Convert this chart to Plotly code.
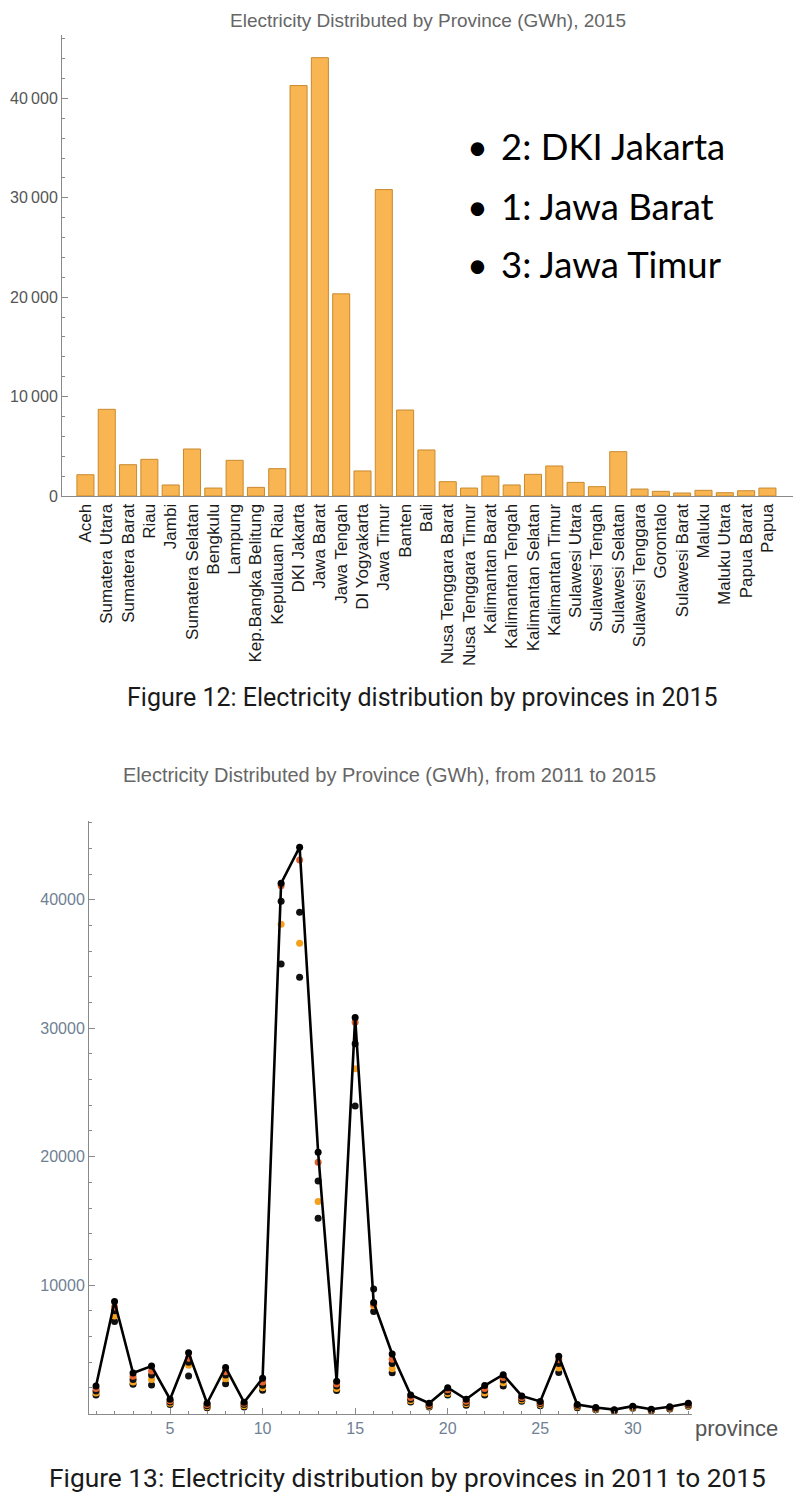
import plotly.graph_objects as go

# page body has an 8px margin; lay out in page pixels and convert
OFF = 8
W, H = 812 - 2 * OFF, 1507 - 2 * OFF

provinces = ["Aceh", "Sumatera Utara", "Sumatera Barat", "Riau", "Jambi", "Sumatera Selatan",
             "Bengkulu", "Lampung", "Kep.Bangka Belitung", "Kepulauan Riau", "DKI Jakarta",
             "Jawa Barat", "Jawa Tengah", "DI Yogyakarta", "Jawa Timur", "Banten", "Bali",
             "Nusa Tenggara Barat", "Nusa Tenggara Timur", "Kalimantan Barat", "Kalimantan Tengah",
             "Kalimantan Selatan", "Kalimantan Timur", "Sulawesi Utara", "Sulawesi Tengah",
             "Sulawesi Selatan", "Sulawesi Tenggara", "Gorontalo", "Sulawesi Barat", "Maluku",
             "Maluku Utara", "Papua Barat", "Papua"]
province_index = list(range(1, 34))

gwh_2011 = [1450, 7160, 2270, 2210, 700, 2920, 450, 2320, 500, 1820, 35010, 33970, 15200, 1800,
            23950, 7950, 3180, 900, 500, 1450, 650, 1450, 2150, 950, 600, 3200, 450, 300, 180,
            400, 220, 360, 560]
gwh_2012 = [1600, 7600, 2450, 2650, 800, 3750, 520, 2700, 600, 2000, 38100, 36620, 16500, 1950,
            26840, 8400, 3490, 1000, 560, 1550, 750, 1600, 2400, 1050, 700, 3550, 520, 340, 210,
            440, 250, 400, 620]
gwh_2013 = [1750, 8000, 2650, 3000, 900, 4000, 600, 3000, 700, 2200, 39890, 39040, 18110, 2150,
            28800, 9700, 3900, 1100, 630, 1700, 850, 1800, 2600, 1150, 780, 3900, 580, 380, 240,
            480, 280, 440, 680]
gwh_2014 = [1950, 8300, 2900, 3300, 1000, 4300, 700, 3250, 800, 2450, 41100, 43110, 19570, 2300,
            30470, 8500, 4220, 1250, 700, 1850, 950, 1950, 2800, 1250, 850, 4200, 640, 420, 270,
            520, 300, 490, 740]
gwh_2015 = [2140, 8720, 3150, 3690, 1110, 4730, 800, 3590, 870, 2750, 41290, 44100, 20340, 2520,
            30830, 8650, 4630, 1440, 800, 2010, 1110, 2180, 3020, 1370, 940, 4460, 700, 470, 300,
            570, 330, 530, 800]

top_yticks = [0, 10000, 20000, 30000, 40000]
top_yticktext = ["0", "10\u2009000", "20\u2009000", "30\u2009000", "40\u2009000"]
bot_yticks = [10000, 20000, 30000, 40000]
bot_yticktext = ["10000", "20000", "30000", "40000"]
bot_xticks = [5, 10, 15, 20, 25, 30]
bullets = ["2: DKI Jakarta", "1: Jawa Barat", "3: Jawa Timur"]


def px_x(p):
    return (p - OFF) / W


def px_y(p):
    return (H - (p - OFF)) / H


fig = go.Figure()

# ---- top bar chart ----
fig.add_trace(go.Bar(
    x=provinces, y=gwh_2015, xaxis="x", yaxis="y",
    marker=dict(color="#F8B552", line=dict(color="#C98A2E", width=1)),
    showlegend=False,
))

# ---- bottom chart ----
year_styles = [
    (gwh_2011, "#111111"),
    (gwh_2012, "#F5A11E"),
    (gwh_2013, "#111111"),
    (gwh_2014, "#E2622B"),
]
for vals, col in year_styles:
    fig.add_trace(go.Scatter(
        x=province_index, y=vals, xaxis="x2", yaxis="y2", mode="markers",
        marker=dict(color=col, size=7), showlegend=False, cliponaxis=False,
    ))
fig.add_trace(go.Scatter(
    x=province_index, y=gwh_2015, xaxis="x2", yaxis="y2", mode="lines+markers",
    line=dict(color="#000000", width=2.6), marker=dict(color="#000000", size=7),
    showlegend=False, cliponaxis=False,
))

axis_col = "#8a8a8a"
SANS = "Liberation Sans, Arial, sans-serif"
tick_font_top = dict(family=SANS, size=16, color="#555555")
tick_font_bot = dict(family=SANS, size=16, color="#6f7f94")

fig.update_layout(
    width=W, height=H,
    margin=dict(l=0, r=0, t=0, b=0, autoexpand=False),
    paper_bgcolor="white", plot_bgcolor="rgba(0,0,0,0)",
    bargap=0.2,
    xaxis=dict(
        domain=[px_x(62), px_x(793)], anchor="y", type="category",
        range=[-1.1, 33.2], showgrid=False, zeroline=False,
        showline=True, linecolor=axis_col, linewidth=1,
        ticks="", tickangle=-90, automargin=False,
        tickfont=dict(family=SANS, size=17, color="#1a1a1a"),
    ),
    yaxis=dict(
        domain=[px_y(496), px_y(35)], anchor="x", range=[0, 46380], automargin=False,
        showgrid=False, zeroline=False, showline=True, linecolor=axis_col, linewidth=1,
        tickvals=top_yticks, ticktext=top_yticktext, ticks="inside", ticklen=6,
        tickcolor=axis_col, tickfont=tick_font_top,
        minor=dict(dtick=2000, tick0=0, ticks="inside", ticklen=3, tickcolor=axis_col),
    ),
    xaxis2=dict(
        domain=[px_x(89), px_x(692)], anchor="y2", range=[0.62, 33.2], automargin=False,
        showgrid=False, zeroline=False, showline=True, linecolor=axis_col, linewidth=1,
        tickvals=bot_xticks, ticks="inside", ticklen=6, tickcolor=axis_col,
        tickfont=tick_font_bot,
        minor=dict(dtick=1, tick0=0, ticks="inside", ticklen=3, tickcolor=axis_col),
    ),
    yaxis2=dict(
        domain=[px_y(1413.5), px_y(821)], anchor="x2", range=[0, 46140], automargin=False,
        showgrid=False, zeroline=False, showline=True, linecolor=axis_col, linewidth=1,
        tickvals=bot_yticks, ticktext=bot_yticktext, ticks="inside", ticklen=6,
        tickcolor=axis_col, tickfont=tick_font_bot,
        minor=dict(dtick=2000, tick0=0, ticks="inside", ticklen=3, tickcolor=axis_col),
    ),
)

annots = []
annots.append(dict(x=px_x(428), y=px_y(20), xref="paper", yref="paper",
                   text="Electricity Distributed by Province (GWh), 2015", showarrow=False,
                   xanchor="center", yanchor="middle",
                   font=dict(family=SANS, size=19, color="#666666")))
for i, (t, yy) in enumerate(zip(bullets, [146, 206, 264])):
    annots.append(dict(x=px_x(477), y=px_y(yy), xref="paper", yref="paper", text="\u2022",
                       showarrow=False, xanchor="center", yanchor="middle",
                       font=dict(family="Lato, sans-serif", size=36, color="#000000")))
    annots.append(dict(x=px_x(499), y=px_y(yy), xref="paper", yref="paper", text=t,
                       showarrow=False, xanchor="left", yanchor="middle",
                       font=dict(family="Lato, sans-serif", size=36.5, color="#000000")))
annots.append(dict(x=px_x(423), y=px_y(697), xref="paper", yref="paper",
                   text="Figure 12: Electricity distribution by provinces in 2015", showarrow=False,
                   xanchor="center", yanchor="middle",
                   font=dict(family="Roboto, sans-serif", size=25, color="#1a1a1a")))
annots.append(dict(x=px_x(389), y=px_y(775), xref="paper", yref="paper",
                   text="Electricity Distributed by Province (GWh), from 2011 to 2015", showarrow=False,
                   xanchor="center", yanchor="middle",
                   font=dict(family=SANS, size=20, color="#666666")))
annots.append(dict(x=px_x(693), y=px_y(1428), xref="paper", yref="paper",
                   text="province", showarrow=False, xanchor="left", yanchor="middle",
                   font=dict(family=SANS, size=22, color="#555555")))
annots.append(dict(x=px_x(407.5), y=px_y(1478), xref="paper", yref="paper",
                   text="Figure 13: Electricity distribution by provinces in 2011 to 2015",
                   showarrow=False, xanchor="center", yanchor="middle",
                   font=dict(family="Roboto, sans-serif", size=26.3, color="#1a1a1a")))
fig.update_layout(annotations=annots)

fig.write_html("out.html")
